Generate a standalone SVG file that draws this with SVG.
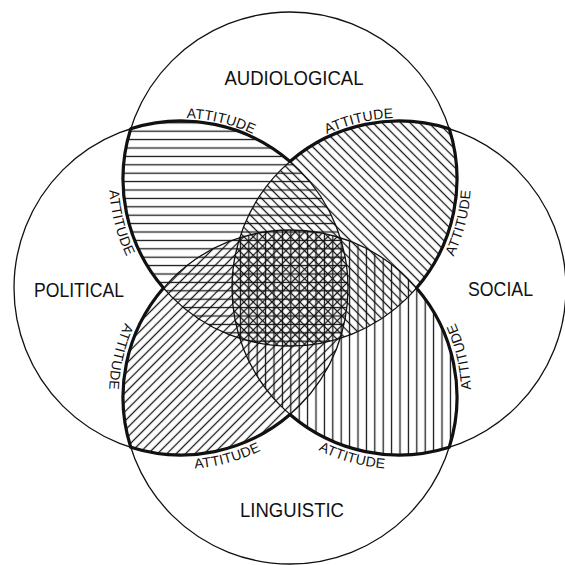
<svg xmlns="http://www.w3.org/2000/svg" width="565" height="565" viewBox="0 0 565 565">
<style>
.big{fill:none;stroke:#111;stroke-width:1.3}
.thick{fill:none;stroke:#111;stroke-width:3.2;stroke-linejoin:round}
.hl{stroke:#111;stroke-width:1.25}
.lbl{font-family:"Liberation Sans",Arial,Helvetica,sans-serif;font-size:20px;fill:#111;text-anchor:middle}
.att{font-family:"Liberation Sans",Arial,Helvetica,sans-serif;font-size:14px;fill:#111;text-anchor:middle;letter-spacing:0.2px}
</style>
<defs>
<clipPath id="cA"><circle cx="290" cy="179" r="167"/></clipPath>
<clipPath id="cP"><circle cx="181" cy="288" r="167"/></clipPath>
<clipPath id="cS"><circle cx="399" cy="288" r="167"/></clipPath>
<clipPath id="cL"><circle cx="290" cy="397" r="167"/></clipPath>
<pattern id="pH" patternUnits="userSpaceOnUse" x="0" y="1" width="20" height="8.4"><line class="hl" x1="-1" y1="4.2" x2="21" y2="4.2"/></pattern>
<pattern id="pV" patternUnits="userSpaceOnUse" x="1" y="0" width="8.4" height="20"><line class="hl" x1="4.2" y1="-1" x2="4.2" y2="21"/></pattern>
<pattern id="pD" patternUnits="userSpaceOnUse" width="6.6" height="20" patternTransform="rotate(-45 290 288)"><line class="hl" x1="3.3" y1="-1" x2="3.3" y2="21"/></pattern>
<pattern id="pU" patternUnits="userSpaceOnUse" width="6.6" height="20" patternTransform="rotate(45 290 288)"><line class="hl" x1="3.3" y1="-1" x2="3.3" y2="21"/></pattern>
<path id="t1" d="M132.72 125.0 A170 170 0 0 1 298.0 164.7"/>
<path id="t2" d="M282.0 164.7 A170 170 0 0 1 447.28 125.0"/>
<path id="t3" d="M115.6 130.6 A181 181 0 0 0 160.9 305.9"/>
<path id="t4" d="M419.1 305.9 A181 181 0 0 0 464.4 130.6"/>
<path id="t5" d="M158.3 272.9 A181 181 0 0 0 116.6 449.0"/>
<path id="t6" d="M463.4 449.0 A181 181 0 0 0 421.7 272.9"/>
<path id="t7" d="M135.1 463.1 A181 181 0 0 0 309.7 415.3"/>
<path id="t8" d="M269.9 414.9 A181 181 0 0 0 444.3 463.2"/>
</defs>
<rect width="565" height="565" fill="#fff"/>
<g id="hatching">
<g clip-path="url(#cA)"><rect width="565" height="565" fill="url(#pH)" clip-path="url(#cP)"/></g>
<g clip-path="url(#cA)"><rect width="565" height="565" fill="url(#pD)" clip-path="url(#cS)"/></g>
<g clip-path="url(#cS)"><rect width="565" height="565" fill="url(#pV)" clip-path="url(#cL)"/></g>
<g clip-path="url(#cP)"><rect width="565" height="565" fill="url(#pU)" clip-path="url(#cL)"/></g>
</g>
<g id="audiological"><circle class="big" cx="290" cy="179" r="167"/><text class="lbl" x="294" y="84.5" textLength="139" lengthAdjust="spacingAndGlyphs">AUDIOLOGICAL</text></g>
<g id="political"><circle class="big" cx="181" cy="288" r="167"/><text class="lbl" x="79" y="297" textLength="90" lengthAdjust="spacingAndGlyphs">POLITICAL</text></g>
<g id="social"><circle class="big" cx="399" cy="288" r="167"/><text class="lbl" x="500.5" y="296" textLength="65" lengthAdjust="spacingAndGlyphs">SOCIAL</text></g>
<g id="linguistic"><circle class="big" cx="290" cy="397" r="167"/><text class="lbl" x="292" y="517" textLength="104" lengthAdjust="spacingAndGlyphs">LINGUISTIC</text></g>
<g id="attitude-outline">
<path class="thick" d="M130.74 128.74 A167 167 0 0 1 290 161.48 A167 167 0 0 1 449.26 128.74 A167 167 0 0 1 416.52 288 A167 167 0 0 1 449.26 447.26 A167 167 0 0 1 290 414.52 A167 167 0 0 1 130.74 447.26 A167 167 0 0 1 163.48 288 A167 167 0 0 1 130.74 128.74 Z"/>
<text class="att"><textPath href="#t1" startOffset="50%">ATTITUDE</textPath></text>
<text class="att"><textPath href="#t2" startOffset="50%">ATTITUDE</textPath></text>
<text class="att"><textPath href="#t3" startOffset="50%">ATTITUDE</textPath></text>
<text class="att"><textPath href="#t4" startOffset="50%">ATTITUDE</textPath></text>
<text class="att"><textPath href="#t5" startOffset="50%">ATTITUDE</textPath></text>
<text class="att"><textPath href="#t6" startOffset="50%">ATTITUDE</textPath></text>
<text class="att"><textPath href="#t7" startOffset="50%">ATTITUDE</textPath></text>
<text class="att"><textPath href="#t8" startOffset="50%">ATTITUDE</textPath></text>
</g>
</svg>
